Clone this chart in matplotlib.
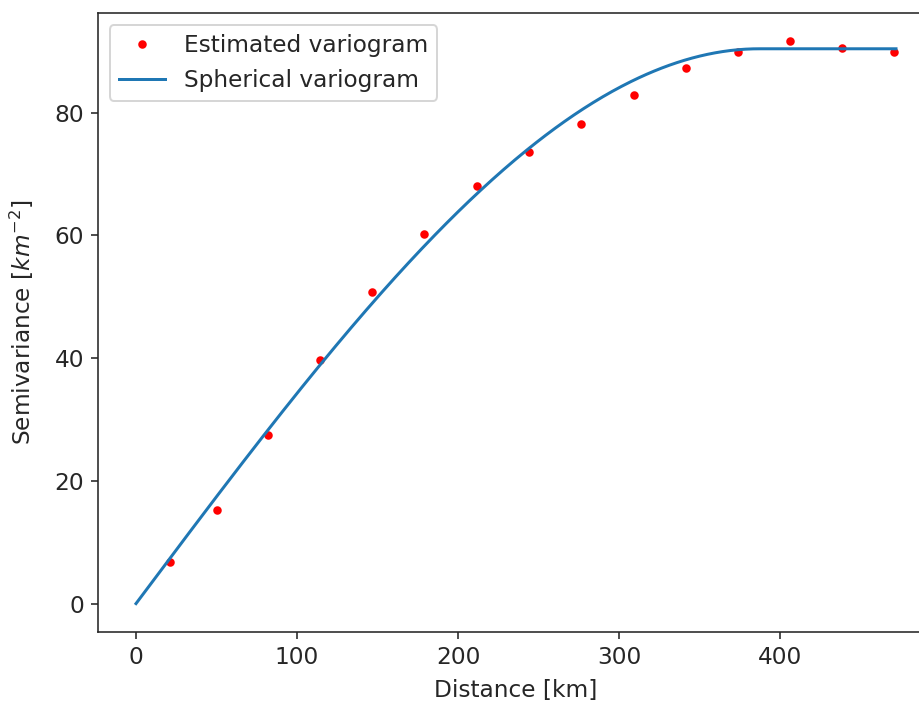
import numpy as np
import matplotlib
matplotlib.use("Agg")
import matplotlib.pyplot as plt

lag_km = [21.2, 50.3, 81.7, 114.1, 146.5, 178.9, 211.5, 244.2, 276.6,
          309.0, 341.5, 373.6, 406.3, 438.7, 470.9]
semivariance = [6.8, 15.3, 27.4, 39.7, 50.8, 60.3, 68.0, 73.6, 78.2,
                82.8, 87.2, 89.9, 91.6, 90.5, 89.9]

# Fitted spherical model parameters
sill = 90.4
model_range = 387.0
max_lag = 472.0

h = np.linspace(0, max_lag, 400)
r = np.clip(h / model_range, 0, 1)
gamma = sill * (1.5 * r - 0.5 * r ** 3)

plt.rcParams['font.size'] = 11.6
plt.rcParams['text.color'] = '#262626'
plt.rcParams['axes.labelcolor'] = '#262626'
plt.rcParams['xtick.color'] = '#262626'
plt.rcParams['ytick.color'] = '#262626'
plt.rcParams['axes.edgecolor'] = '#262626'

fig = plt.figure(figsize=(919 / 144, 704 / 144), dpi=144)
ax = fig.add_axes([98 / 919, 1 - 631.7 / 704, (934 - 98) / 919, (631.7 - 13.3) / 704])
ax.plot(lag_km, semivariance, 'r.', markersize=6.5, label='Estimated variogram')
ax.plot(h, gamma, linewidth=1.5, label='Spherical variogram')
ax.set_xlabel('Distance [km]', labelpad=5)
ax.set_ylabel('Semivariance [$km^{-2}$]', labelpad=9)
ax.legend(loc='upper left')
fig.savefig('out.png', dpi=144)
